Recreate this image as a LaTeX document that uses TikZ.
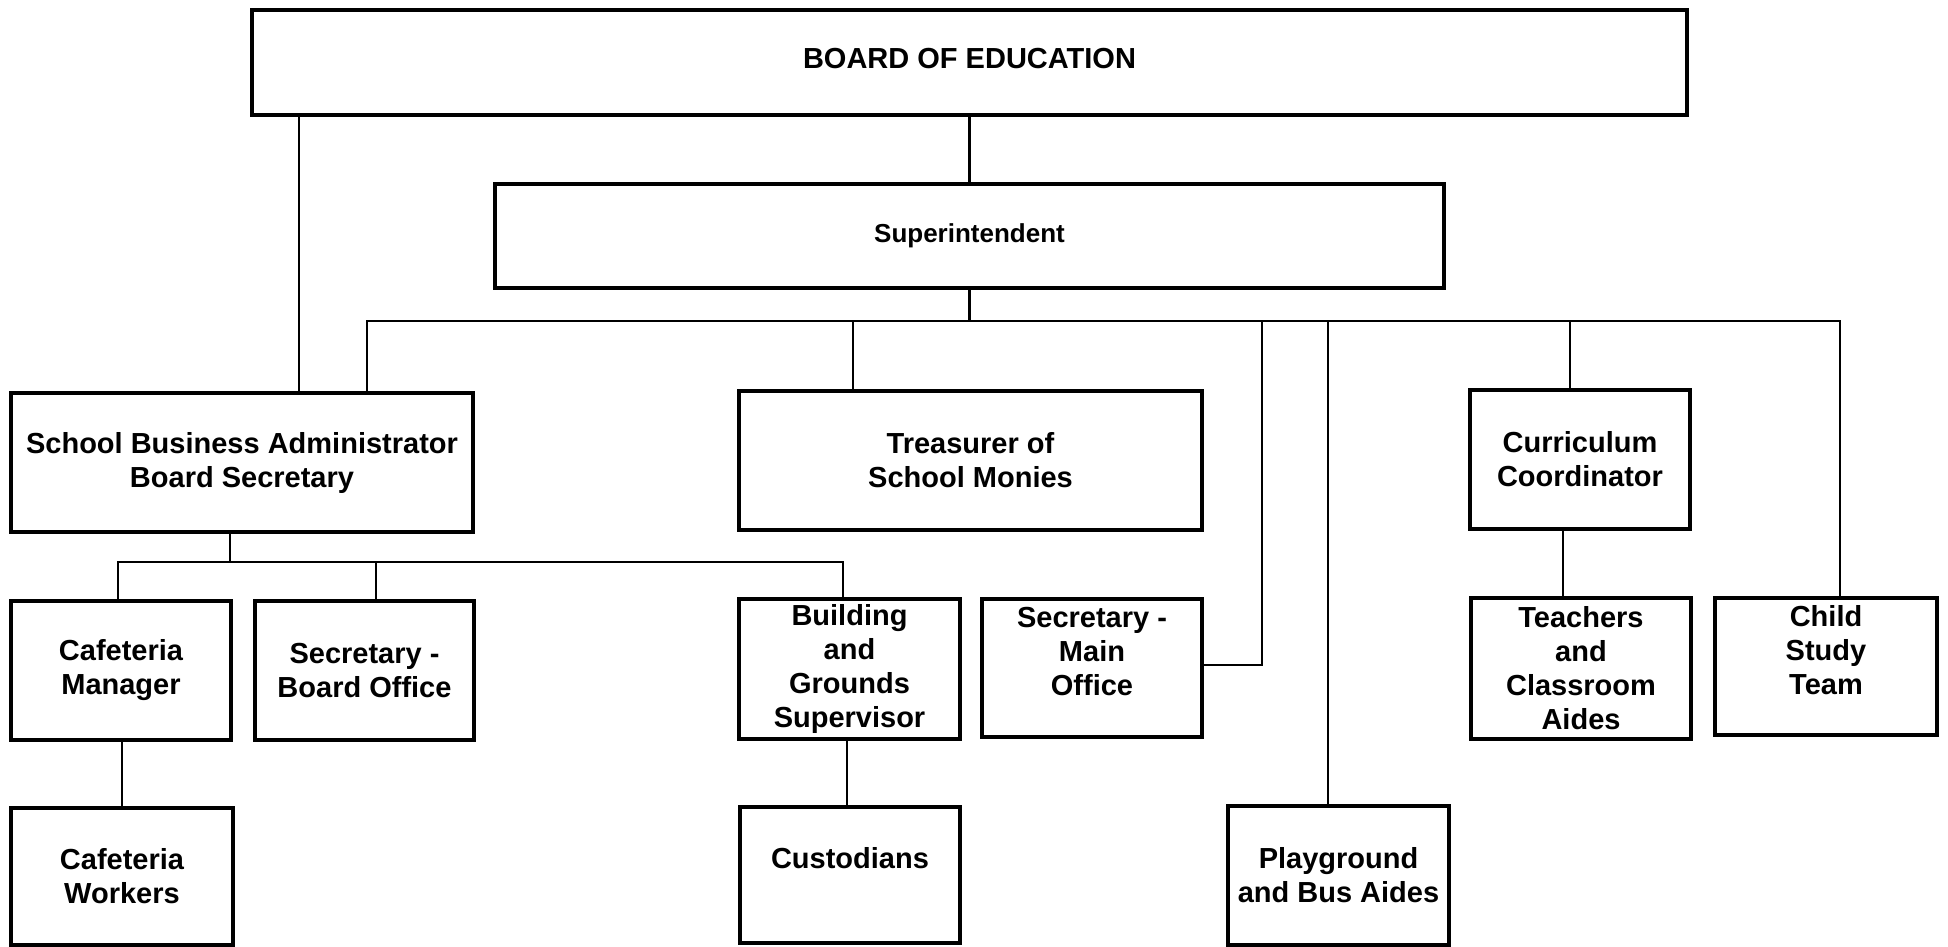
\documentclass[tikz,border=0pt]{standalone}
\usepackage{fontspec}
\setmainfont{Liberation Sans}
\begin{document}
\begin{tikzpicture}[x=1pt,y=-1pt,
  box/.style={draw, line width=4.8pt, rectangle, inner sep=0pt, align=center,
    font=\fontsize{29}{34}\selectfont\bfseries},
  link/.style={line width=2.9pt, line join=miter}]
\useasboundingbox (0,0) rectangle (1948,947);

% --- top levels ---
\node[box, minimum width=1435, minimum height=105] (board) at (969.5,62.5)
  {\raisebox{4pt}[\height][\depth]{BOARD OF EDUCATION}};
\node[box, minimum width=949, minimum height=104,
      font=\fontsize{26}{30}\selectfont\bfseries] (super) at (969.5,236) {Superintendent};

% --- second row ---
\node[box, minimum width=462, minimum height=139] (sba) at (242,462.5)
  {School Business Administrator\\Board Secretary};
\node[box, minimum width=463, minimum height=139] (treas) at (970.5,460.5)
  {Treasurer of\\School Monies};
\node[box, minimum width=220, minimum height=139] (curr) at (1580,459.5)
  {Curriculum\\Coordinator};

% --- third row ---
\node[box, minimum width=220, minimum height=139] (cafmgr) at (121,670.5)
  {Cafeteria\\Manager};
\node[box, minimum width=219, minimum height=139] (secboard) at (364.5,670.5)
  {Secretary -\\Board Office};
\node[box, minimum width=221, minimum height=140] (bldg) at (849.5,669)
  {Building\\and\\Grounds\\Supervisor};
\node[box, minimum width=220, minimum height=138] (secmain) at (1092,668)
  {Secretary -\\Main\\Office\\ \mbox{}};
\node[box, minimum width=220, minimum height=141] (teach) at (1581,668.5)
  {Teachers\\and\\Classroom\\Aides};
\node[box, minimum width=222, minimum height=137] (child) at (1826,666.5)
  {Child\\Study\\Team\\ \mbox{}};

% --- bottom row ---
\node[box, minimum width=222, minimum height=137] (cafwork) at (122,876.5)
  {Cafeteria\\Workers};
\node[box, minimum width=220, minimum height=136] (cust) at (850,875)
  {Custodians\\ \mbox{}};
\node[box, minimum width=221, minimum height=139] (play) at (1338.5,875.5)
  {Playground\\and Bus Aides};

% --- junction points of the connectors ---
\coordinate (xsba) at (299,0);
\coordinate (busL) at (367,321);
\coordinate (busR) at (1840,321);
\coordinate (xtreas) at (853,321);
\coordinate (xsm) at (1262,321);
\coordinate (smcorner) at (1262,665);
\coordinate (xplay) at (1328,321);
\coordinate (xcurr) at (1570,321);
\coordinate (sbadrop) at (230,562);
\coordinate (b2L) at (118,562);
\coordinate (b2R) at (843,562);
\coordinate (xsb) at (376,562);
\coordinate (xcw) at (122,0);
\coordinate (xcu) at (847,0);
\coordinate (xte) at (1563,0);

% --- connectors ---
\draw[link] (board.south -| xsba) -- (sba.north -| xsba);
\draw[link] (board.south) -- (super.north);
\draw[link] (super.south) -- (super.south |- busL);
\draw[link] (sba.north -| busL) -- (busL) -- (busR) -- (child.north -| busR);
\draw[link] (xtreas) -- (treas.north -| xtreas);
\draw[link] (xsm) -- (smcorner) -- (secmain.east |- smcorner);
\draw[link] (xplay) -- (play.north -| xplay);
\draw[link] (xcurr) -- (curr.north -| xcurr);

\draw[link] (sba.south -| sbadrop) -- (sbadrop);
\draw[link] (cafmgr.north -| b2L) -- (b2L) -- (b2R) -- (bldg.north -| b2R);
\draw[link] (xsb) -- (secboard.north -| xsb);

\draw[link] (cafmgr.south -| xcw) -- (cafwork.north -| xcw);
\draw[link] (bldg.south -| xcu) -- (cust.north -| xcu);
\draw[link] (curr.south -| xte) -- (teach.north -| xte);
\end{tikzpicture}
\end{document}
